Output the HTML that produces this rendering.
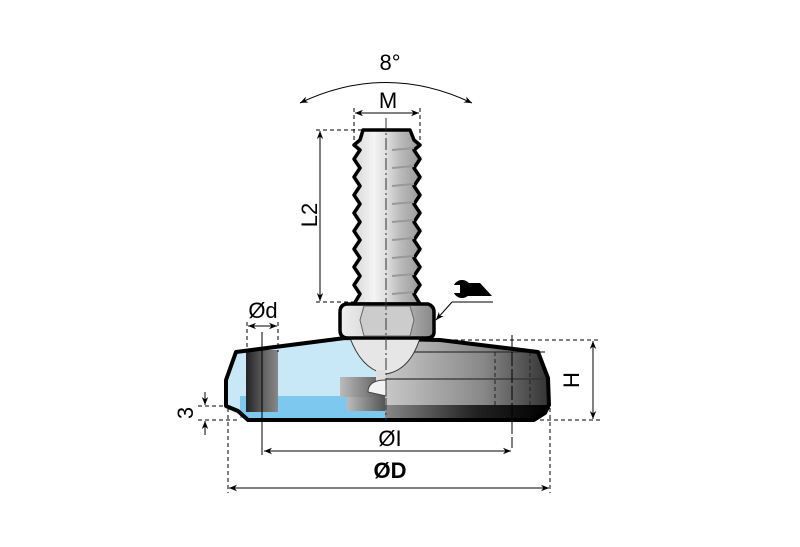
<!DOCTYPE html>
<html><head><meta charset="utf-8"><style>
html,body{margin:0;padding:0;background:#fff;}
svg{display:block;font-family:"Liberation Sans",sans-serif;}
</style></head><body>
<svg width="800" height="547" viewBox="0 0 800 547" xmlns="http://www.w3.org/2000/svg">
<defs>
<marker id="a" viewBox="0 0 10 10" refX="10" refY="5" markerWidth="8" markerHeight="8" orient="auto-start-reverse"><path d="M0,1 L10,5 L0,9 L3,5z" fill="#000"/></marker>
<linearGradient id="bolt" x1="0" x2="1"><stop offset="0" stop-color="#d8d8d8"/><stop offset="0.3" stop-color="#f4f4f4"/><stop offset="0.5" stop-color="#ddd"/><stop offset="0.7" stop-color="#bbb"/><stop offset="1" stop-color="#999"/></linearGradient>
<linearGradient id="pil" x1="0" x2="1"><stop offset="0" stop-color="#222"/><stop offset="0.6" stop-color="#666"/><stop offset="1" stop-color="#888"/></linearGradient>
<linearGradient id="rt" x1="0" x2="1"><stop offset="0" stop-color="#c8c8c8"/><stop offset="0.6" stop-color="#888"/><stop offset="1" stop-color="#333"/></linearGradient>
<linearGradient id="rb" x1="0" x2="1"><stop offset="0" stop-color="#888"/><stop offset="0.55" stop-color="#222"/><stop offset="1" stop-color="#000"/></linearGradient>
<linearGradient id="nut" x1="0" x2="1"><stop offset="0" stop-color="#eee"/><stop offset="0.5" stop-color="#ccc"/><stop offset="1" stop-color="#888"/></linearGradient>
<linearGradient id="blk" x1="0" x2="1"><stop offset="0" stop-color="#bbb"/><stop offset="1" stop-color="#555"/></linearGradient>
</defs>

<path d="M236,352 L345,338 L385,338 L385,420 L248,420 L238,411 L226,406 L226,380 Z" fill="#c8e8f8"/>
<rect x="240" y="396" width="145" height="22" fill="#7cc8ee"/>
<rect x="246" y="350" width="32" height="62" fill="url(#pil)"/>
<rect x="340" y="377" width="45" height="20" fill="url(#blk)"/>
<rect x="347" y="397" width="38" height="14" fill="url(#blk)"/>
<path d="M385,340 L440,340 L538,352 L548,378 L549,405 L385,405 Z" fill="url(#rt)"/>
<path d="M385,405 L549,405 L545,413 L534,420 L385,420 Z" fill="url(#rb)"/>
<g stroke="#333" stroke-width="1.2"><line x1="385" y1="352" x2="545" y2="352"/><line x1="385" y1="379" x2="548" y2="379"/></g>
<g stroke="#222" stroke-width="1" stroke-dasharray="4,3"><line x1="495" y1="352" x2="495" y2="405"/><line x1="530" y1="352" x2="530" y2="405"/></g>
<path d="M236,352 L345,338 L440,340 L538,352 L548,378 L549,405 L545,413 L534,420 L248,420 L238,411 L226,406 L226,380 Z" fill="none" stroke="#000" stroke-width="4" stroke-linejoin="round"/>

<path d="M350,338 L420,338 Q410,370 386,374 Q362,370 350,338Z" fill="#e6e6e6" stroke="#333" stroke-width="1"/>
<rect x="376" y="370" width="10" height="12" fill="#ddd"/>
<path d="M386,380 Q368,380 368,392 L386,396 Z" fill="#f2f2f2" stroke="#444" stroke-width="1"/>

<path d="M363,130 L410,130 L414,140 L420,145 L414,150 L420,159 L414,168 L420,177 L414,186 L420,195 L414,204 L420,213 L414,222 L420,231 L414,240 L420,249 L414,258 L420,267 L414,276 L420,285 L414,294 L420,304 L354,304 L360,294 L354,285 L360,276 L354,267 L360,258 L354,249 L360,240 L354,231 L360,222 L354,213 L360,204 L354,195 L360,186 L354,177 L360,168 L354,159 L360,150 L354,145 L360,140 Z" fill="url(#bolt)" stroke="#000" stroke-width="3.5" stroke-linejoin="round"/>
<g stroke="#999" stroke-width="2">
<line x1="392" y1="150" x2="414" y2="148"/><line x1="392" y1="168" x2="414" y2="166"/><line x1="392" y1="186" x2="414" y2="184"/><line x1="392" y1="204" x2="414" y2="202"/><line x1="392" y1="222" x2="414" y2="220"/><line x1="392" y1="240" x2="414" y2="238"/><line x1="392" y1="258" x2="414" y2="256"/><line x1="392" y1="276" x2="414" y2="274"/><line x1="392" y1="294" x2="414" y2="292"/>
</g>
<path d="M348,304 L428,304 Q434,306 434,312 L434,332 Q434,338 426,338 L348,338 Q340,338 340,330 L340,312 Q340,304 348,304Z" fill="url(#nut)" stroke="#000" stroke-width="3.5"/>
<path d="M364,306 L410,306 L414,320 L410,336 L364,336 L360,320Z" fill="#ccc" stroke="#666" stroke-width="1"/>

<line x1="386" y1="118" x2="386" y2="420" stroke="#333" stroke-width="1" stroke-dasharray="12,3,2,3"/>

<path d="M300,103 Q386,62 472,103" fill="none" stroke="#000" stroke-width="1" marker-start="url(#a)" marker-end="url(#a)"/>
<text x="390" y="70" font-size="22" text-anchor="middle">8°</text>
<g stroke="#000" stroke-width="1" stroke-dasharray="4,3"><line x1="354" y1="108" x2="354" y2="145"/><line x1="420" y1="108" x2="420" y2="145"/></g>
<line x1="355" y1="113" x2="419" y2="113" stroke="#000" stroke-width="1" marker-start="url(#a)" marker-end="url(#a)"/>
<text x="388" y="108" font-size="22" text-anchor="middle">M</text>
<g stroke="#000" stroke-width="1" stroke-dasharray="4,3"><line x1="316" y1="130" x2="363" y2="130"/><line x1="316" y1="302" x2="355" y2="302"/></g>
<line x1="320" y1="131" x2="320" y2="301" stroke="#000" stroke-width="1" marker-start="url(#a)" marker-end="url(#a)"/>
<text transform="translate(317,215) rotate(-90)" font-size="22" text-anchor="middle">L2</text>
<!-- wrench -->
<circle cx="462" cy="289" r="9" fill="#000"/>
<rect x="450" y="285" width="10" height="8" fill="#fff"/>
<polygon points="466,283 480,283 492,296 466,296" fill="#000"/>
<line x1="452" y1="302" x2="493" y2="302" stroke="#000" stroke-width="1"/>
<line x1="452" y1="302" x2="436" y2="320" stroke="#000" stroke-width="1" marker-end="url(#a)"/>
<g stroke="#000" stroke-width="1" stroke-dasharray="4,3"><line x1="247" y1="322" x2="247" y2="352"/><line x1="278" y1="322" x2="278" y2="352"/></g>
<line x1="248" y1="326" x2="277" y2="326" stroke="#000" stroke-width="1" marker-start="url(#a)" marker-end="url(#a)"/>
<text x="263" y="318" font-size="22" text-anchor="middle">Ød</text>
<line x1="262" y1="332" x2="262" y2="455" stroke="#000" stroke-width="1"/>
<g stroke="#000" stroke-width="1" stroke-dasharray="4,3"><line x1="440" y1="340" x2="600" y2="340"/><line x1="540" y1="420" x2="600" y2="420"/></g>
<line x1="593" y1="341" x2="593" y2="419" stroke="#000" stroke-width="1" marker-start="url(#a)" marker-end="url(#a)"/>
<text transform="translate(579,380) rotate(-90)" font-size="22" text-anchor="middle">H</text>
<g stroke="#000" stroke-width="1" stroke-dasharray="4,3"><line x1="198" y1="406" x2="230" y2="406"/><line x1="198" y1="420" x2="240" y2="420"/></g>
<line x1="205" y1="392" x2="205" y2="405" stroke="#000" stroke-width="1" marker-end="url(#a)"/>
<line x1="205" y1="435" x2="205" y2="421" stroke="#000" stroke-width="1" marker-end="url(#a)"/>
<text transform="translate(193,413) rotate(-90)" font-size="22" text-anchor="middle">3</text>
<line x1="512" y1="335" x2="512" y2="448" stroke="#000" stroke-width="1" stroke-dasharray="14,3"/>
<line x1="264" y1="451" x2="511" y2="451" stroke="#000" stroke-width="1" marker-start="url(#a)" marker-end="url(#a)"/>
<text x="390" y="446" font-size="22" text-anchor="middle">ØI</text>
<g stroke="#000" stroke-width="1" stroke-dasharray="4,3"><line x1="228" y1="408" x2="228" y2="493"/><line x1="550" y1="408" x2="550" y2="493"/></g>
<line x1="229" y1="488" x2="549" y2="488" stroke="#000" stroke-width="1" marker-start="url(#a)" marker-end="url(#a)"/>
<text x="390" y="478" font-size="22" font-weight="bold" text-anchor="middle">ØD</text>
</svg>
</body></html>
